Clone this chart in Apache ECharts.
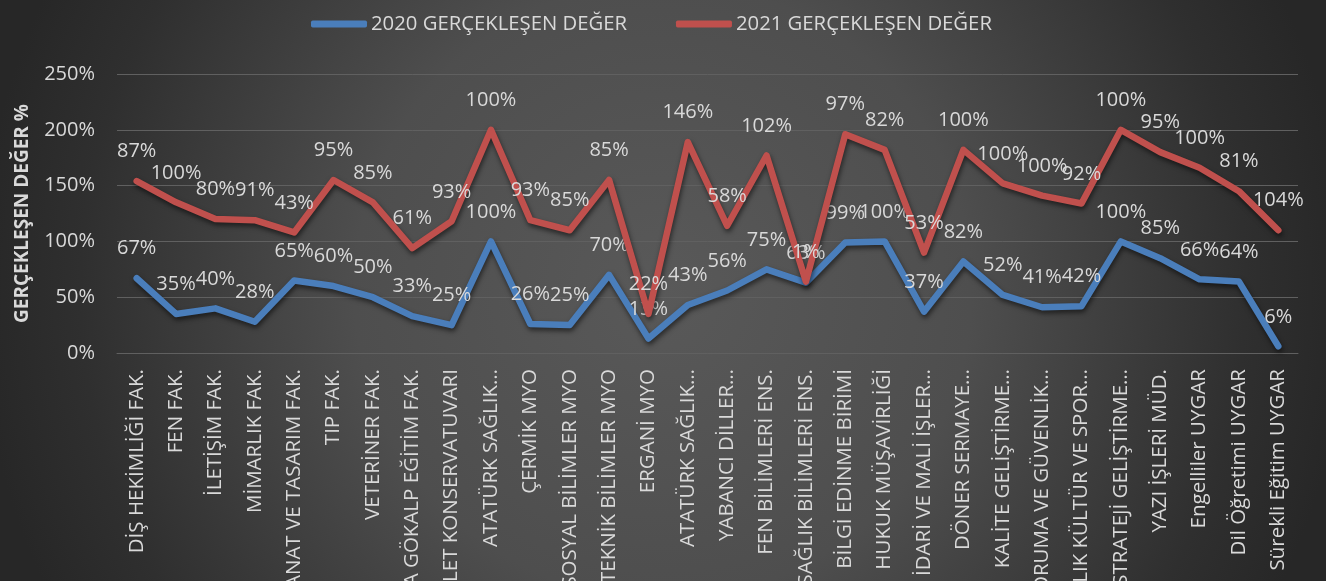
<!DOCTYPE html>
<html>
<head>
<meta charset="utf-8">
<script src="https://cdn.jsdelivr.net/npm/echarts@6/dist/echarts.min.js"></script>
<style>
html,body{margin:0;padding:0;width:1326px;height:581px;overflow:hidden;background:#2a2a2a;}
#c{width:1326px;height:581px;}
</style>
</head>
<body>
<div id="c"></div>
<script>
const categories = [
  "DİŞ HEKİMLİĞİ FAK.", "FEN FAK.", "İLETİŞİM FAK.", "MİMARLIK FAK.", "SANAT VE TASARIM FAK.",
  "TIP FAK.", "VETERİNER FAK.", "ZİYA GÖKALP EĞİTİM FAK.", "DEVLET KONSERVATUVARI", "ATATÜRK SAĞLIK…",
  "ÇERMİK MYO", "SOSYAL BİLİMLER MYO", "TEKNİK BİLİMLER MYO", "ERGANİ MYO", "ATATÜRK SAĞLIK…",
  "YABANCI DİLLER…", "FEN BİLİMLERİ ENS.", "SAĞLIK BİLİMLERİ ENS.", "BİLGİ EDİNME BİRİMİ", "HUKUK MÜŞAVİRLİĞİ",
  "İDARİ VE MALİ İŞLER…", "DÖNER SERMAYE…", "KALİTE GELİŞTİRME…", "KORUMA VE GÜVENLİK…", "SAĞLIK KÜLTÜR VE SPOR…",
  "STRATEJİ GELİŞTİRME…", "YAZI İŞLERİ MÜD.", "Engelliler UYGAR", "Dil Öğretimi UYGAR", "Sürekli Eğitim UYGAR"
];
const seriesNames = ["2020 GERÇEKLEŞEN DEĞER", "2021 GERÇEKLEŞEN DEĞER"];
const values2020 = [67, 35, 40, 28, 65, 60, 50, 33, 25, 100, 26, 25, 70, 13, 43, 56, 75, 63, 99, 100, 37, 82, 52, 41, 42, 100, 85, 66, 64, 6];
const values2021 = [87, 100, 80, 91, 43, 95, 85, 61, 93, 100, 93, 85, 85, 22, 146, 58, 102, 1, 97, 82, 53, 100, 100, 100, 92, 100, 95, 100, 81, 104];
const yTicks = { min: 0, max: 250, interval: 50 };
const colors = ["#4a7ebb", "#c0504d"];

const FONT = "'Open Sans', 'DejaVu Sans', sans-serif";
const TXT = "#d9d9d9";

const chart = echarts.init(document.getElementById('c'), null, { renderer: 'canvas' });

function lineSeries(name, data, color) {
  return {
    name: name,
    type: 'line',
    stack: 'total',
    data: data,
    symbol: 'circle',
    symbolSize: 1,
    showSymbol: true,
    itemStyle: { color: color },
    lineStyle: {
      color: color, width: 6.5, cap: 'round', join: 'round',
      shadowColor: 'rgba(0,0,0,0.55)', shadowBlur: 5, shadowOffsetX: 1, shadowOffsetY: 3
    },
    label: {
      show: true, position: 'top', distance: 19,
      formatter: p => p.value + '%',
      color: TXT, fontFamily: FONT, fontSize: 20
    },
    emphasis: { disabled: true },
    z: name === seriesNames[1] ? 3 : 2
  };
}

chart.setOption({
  animation: false,
  backgroundColor: {
    type: 'radial', x: 0.5, y: 0.5, r: 1.18,
    colorStops: [
      { offset: 0, color: '#595959' },
      { offset: 0.45, color: '#4e4e4e' },
      { offset: 0.85, color: '#2f2f2f' },
      { offset: 1, color: '#272727' }
    ]
  },
  color: colors,
  legend: {
    left: 306, top: 9,
    itemWidth: 56, itemHeight: 7, itemGap: 49,
    icon: 'roundRect',
    textStyle: { color: TXT, fontFamily: FONT, fontSize: 20.3, padding: [0, 0, 0, -1] },
    data: seriesNames
  },
  grid: {
    left: 117, right: 28, top: 74, bottom: 228,
    containLabel: false,
    outerBoundsMode: 'none'
  },
  xAxis: {
    type: 'category',
    data: categories,
    boundaryGap: true,
    axisTick: { show: false },
    axisLine: { show: true, lineStyle: { color: '#606060', width: 1 } },
    axisLabel: {
      interval: 0, rotate: 90, margin: 16,
      color: TXT, fontFamily: FONT, fontSize: 20.5
    }
  },
  yAxis: {
    type: 'value',
    min: yTicks.min, max: yTicks.max, interval: yTicks.interval,
    name: 'GERÇEKLEŞEN DEĞER %',
    nameLocation: 'middle',
    nameGap: 85,
    nameRotate: 90,
    nameTextStyle: { color: TXT, fontFamily: FONT, fontSize: 19, fontWeight: 'bold' },
    axisLine: { show: false },
    axisTick: { show: false },
    splitLine: { lineStyle: { color: '#606060', width: 1 } },
    axisLabel: {
      margin: 22,
      formatter: v => v + '%',
      color: TXT, fontFamily: FONT, fontSize: 20
    }
  },
  series: [
    lineSeries(seriesNames[0], values2020, colors[0]),
    lineSeries(seriesNames[1], values2021, colors[1])
  ]
});
</script>
</body>
</html>
